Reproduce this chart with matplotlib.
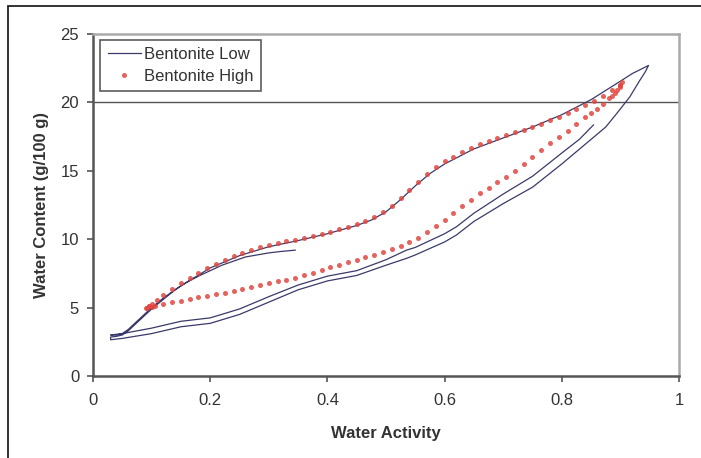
import matplotlib
matplotlib.use("Agg")
import matplotlib.pyplot as plt
from matplotlib.patches import Rectangle

plt.rcParams['font.family'] = ['Liberation Sans', 'DejaVu Sans']

# Bentonite Low: one continuous run (initial drying from 0.35, sorption,
# desorption, second sorption stopping at ~0.85)
low_aw = [0.345, 0.32, 0.30, 0.28, 0.26, 0.24, 0.22, 0.20, 0.18, 0.16, 0.14, 0.12, 0.10,
          0.09, 0.08, 0.07, 0.06, 0.05, 0.04, 0.03, 0.03,
          0.05, 0.10, 0.15, 0.20, 0.25, 0.30, 0.35, 0.40, 0.45, 0.50, 0.535, 0.55, 0.60,
          0.62, 0.65, 0.70, 0.75, 0.80, 0.85, 0.875, 0.894, 0.916, 0.933, 0.942, 0.948,
          0.92, 0.90, 0.85, 0.80, 0.75, 0.70, 0.65, 0.60, 0.575, 0.55, 0.525, 0.50, 0.475,
          0.45, 0.40, 0.35, 0.30, 0.25, 0.20, 0.15, 0.12, 0.10, 0.08, 0.06, 0.05, 0.04, 0.03,
          0.05, 0.10, 0.15, 0.20, 0.25, 0.30, 0.35, 0.40, 0.45, 0.50, 0.535, 0.55, 0.60,
          0.62, 0.65, 0.70, 0.75, 0.80, 0.83, 0.854]
low_wc = [9.2, 9.1, 9.0, 8.85, 8.7, 8.4, 8.1, 7.7, 7.3, 6.85, 6.3, 5.6, 4.9,
          4.5, 4.1, 3.7, 3.3, 3.0, 2.9, 2.85, 2.65,
          2.75, 3.1, 3.6, 3.85, 4.5, 5.4, 6.3, 6.95, 7.35, 8.1, 8.6, 8.85, 9.8,
          10.3, 11.3, 12.6, 13.8, 15.5, 17.3, 18.2, 19.2, 20.4, 21.6, 22.2, 22.7,
          22.1, 21.55, 20.2, 19.1, 18.2, 17.4, 16.6, 15.5, 14.8, 13.9, 12.9, 12.0, 11.4,
          11.0, 10.4, 9.9, 9.45, 8.8, 7.9, 6.6, 5.7, 5.0, 4.2, 3.4, 3.1, 3.0, 3.0,
          3.1, 3.5, 4.0, 4.25, 4.9, 5.8, 6.65, 7.3, 7.7, 8.5, 9.2, 9.4, 10.4,
          10.9, 11.9, 13.3, 14.6, 16.3, 17.3, 18.35]

# Bentonite High: sorption branch then desorption branch
high_aw = [0.090, 0.095, 0.100, 0.105, 0.120, 0.135, 0.150, 0.165, 0.180, 0.195, 0.210,
           0.225, 0.240, 0.255, 0.270, 0.285, 0.300, 0.315, 0.330, 0.345, 0.360, 0.375,
           0.390, 0.405, 0.420, 0.435, 0.450, 0.465, 0.480, 0.495, 0.510, 0.525, 0.540,
           0.555, 0.570, 0.585, 0.600, 0.615, 0.630, 0.645, 0.660, 0.675, 0.690, 0.705,
           0.720, 0.735, 0.750, 0.765, 0.780, 0.795, 0.810, 0.825, 0.840, 0.850, 0.860,
           0.870, 0.880, 0.885, 0.890, 0.895, 0.900, 0.900, 0.902,
           0.900, 0.885, 0.870, 0.855, 0.840, 0.825, 0.810, 0.795, 0.780, 0.765, 0.750,
           0.735, 0.720, 0.705, 0.690, 0.675, 0.660, 0.645, 0.630, 0.615, 0.600, 0.585,
           0.570, 0.555, 0.540, 0.525, 0.510, 0.495, 0.480, 0.465, 0.450, 0.435, 0.420,
           0.405, 0.390, 0.375, 0.360, 0.345, 0.330, 0.315, 0.300, 0.285, 0.270, 0.255,
           0.240, 0.225, 0.210, 0.195, 0.180, 0.165, 0.150, 0.135, 0.120, 0.110, 0.100,
           0.095, 0.092]
high_wc = [5.0, 5.1, 5.05, 5.15, 5.25, 5.4, 5.5, 5.6, 5.75, 5.85, 6.0,
           6.1, 6.2, 6.35, 6.5, 6.65, 6.8, 6.95, 7.05, 7.2, 7.4, 7.55,
           7.75, 7.95, 8.15, 8.3, 8.5, 8.7, 8.85, 9.05, 9.25, 9.5, 9.8,
           10.1, 10.55, 11.0, 11.4, 11.9, 12.4, 12.9, 13.4, 13.75, 14.15, 14.55,
           15.0, 15.5, 16.0, 16.5, 17.0, 17.45, 17.9, 18.4, 18.9, 19.2, 19.55,
           19.9, 20.3, 20.5, 20.7, 20.9, 21.1, 21.3, 21.5,
           21.3, 20.9, 20.5, 20.1, 19.8, 19.5, 19.2, 18.9, 18.7, 18.4, 18.2,
           18.0, 17.8, 17.6, 17.4, 17.15, 16.95, 16.7, 16.35, 16.0, 15.7, 15.3,
           14.8, 14.2, 13.6, 13.0, 12.45, 12.0, 11.6, 11.35, 11.1, 10.9, 10.75,
           10.55, 10.4, 10.25, 10.1, 9.95, 9.85, 9.7, 9.6, 9.4, 9.2, 9.0,
           8.75, 8.45, 8.2, 7.9, 7.5, 7.15, 6.8, 6.35, 5.9, 5.55, 5.25,
           5.1, 4.95]

x_ticks = [0, 0.2, 0.4, 0.6, 0.8, 1]
x_tick_labels = ['0', '0.2', '0.4', '0.6', '0.8', '1']
y_ticks = [0, 5, 10, 15, 20, 25]

fig = plt.figure(figsize=(7.01, 4.58), dpi=100)
ax = fig.add_axes([0.1327, 0.179, 0.8359, 0.7468])

# outer frame of the picture (only left and top edges visible)
fig.patches.append(Rectangle((8 / 701, -0.2), 1.2, 1.2 - 6 / 458,
                             transform=fig.transFigure, fill=False,
                             edgecolor='#222222', linewidth=1.3))

ax.axhline(20, color='#555555', linewidth=1.0, zorder=1)
ax.plot(low_aw, low_wc, color='#3a3a6a', linewidth=0.9, label='Bentonite Low', zorder=2)
ax.plot(high_aw, high_wc, linestyle='none', marker='o', markersize=3.6,
        markeredgewidth=0, color='#e2463f', alpha=0.85, label='Bentonite High', zorder=3)

ax.set_xlim(0, 1)
ax.set_ylim(0, 25)
ax.set_xticks(x_ticks)
ax.set_xticklabels(x_tick_labels)
ax.set_yticks(y_ticks)
ax.tick_params(direction='out', length=4, width=1.2, color='#555555',
               labelsize=12, labelcolor='#333333')
ax.tick_params(axis='x', pad=8)
ax.tick_params(axis='y', pad=6)

for side in ['left', 'bottom']:
    ax.spines[side].set_color('#555555')
    ax.spines[side].set_linewidth(1.8)
for side in ['top', 'right']:
    ax.spines[side].set_color('#aaaaaa')
    ax.spines[side].set_linewidth(1.8)

ax.set_xlabel('Water Activity', fontsize=12, fontweight='bold', color='#333333', labelpad=13)
ax.set_ylabel('Water Content (g/100 g)', fontsize=12, fontweight='bold', color='#333333', labelpad=8)

leg = ax.legend(loc='upper left', bbox_to_anchor=(0.012, 0.983), borderaxespad=0,
                fancybox=False, frameon=True, fontsize=12, handlelength=2.0,
                handletextpad=0.2, borderpad=0.45, labelspacing=0.38, numpoints=1,
                labelcolor='#333333')
leg.get_frame().set_edgecolor('#333333')
leg.get_frame().set_linewidth(1.2)

fig.savefig('out.png', dpi=100)
